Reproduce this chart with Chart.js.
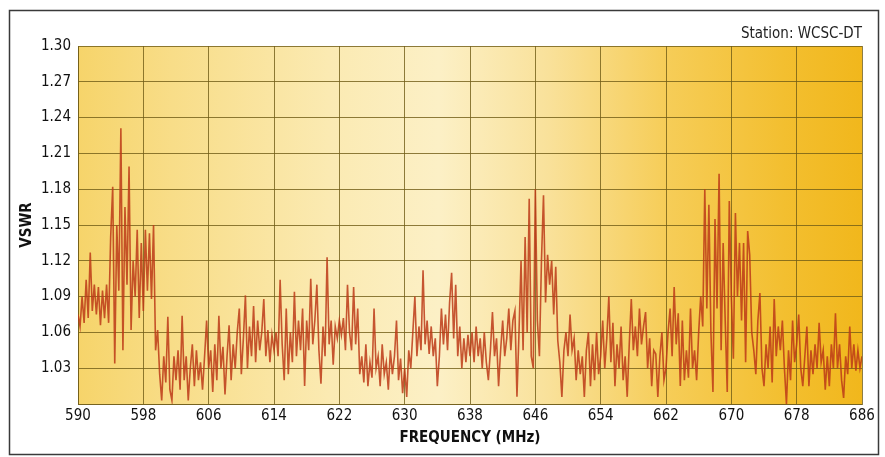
<!DOCTYPE html>
<html><head><meta charset="utf-8">
<script src="https://cdn.jsdelivr.net/npm/chart.js@4/dist/chart.umd.min.js"></script>
<style>
html,body{margin:0;padding:0;background:#fff;}
#wrap{position:relative;width:885px;height:457px;}
</style></head><body>
<div id="wrap"><canvas id="c" width="885" height="457"></canvas></div>
<script>
const startFreq = 590;
const stepMHz = 0.25;
const xTicks = [590,598,606,614,622,630,638,646,654,662,670,678,686];
const yTicks = [1.00,1.03,1.06,1.09,1.12,1.15,1.18,1.21,1.24,1.27,1.30];
const stationLabel = 'Station: WCSC-DT';

// VSWR readings, 0.25 MHz apart, one array per 8 MHz block
const vswr590 = [1.075,1.065,1.090,1.068, 1.104,1.072,1.127,1.078, 1.100,1.075,1.098,1.066, 1.095,1.072,1.100,1.068, 1.140,1.182,1.034,1.150, 1.095,1.231,1.045,1.165, 1.100,1.199,1.062,1.120, 1.090,1.146,1.072,1.135];
const vswr598 = [1.078,1.146,1.095,1.143, 1.088,1.150,1.045,1.062, 1.025,1.003,1.040,1.018, 1.073,1.012,1.003,1.040, 1.020,1.045,1.012,1.074, 1.020,1.040,1.003,1.030, 1.050,1.015,1.045,1.020, 1.035,1.012,1.040,1.070];
const vswr606 = [1.030,1.045,1.010,1.050, 1.020,1.074,1.030,1.048, 1.008,1.040,1.066,1.020, 1.050,1.030,1.060,1.080, 1.025,1.055,1.091,1.030, 1.065,1.040,1.082,1.035, 1.070,1.045,1.060,1.088, 1.040,1.062,1.035,1.058];
const vswr614 = [1.045,1.060,1.040,1.104, 1.050,1.020,1.080,1.025, 1.060,1.035,1.094,1.040, 1.070,1.045,1.080,1.015, 1.070,1.045,1.105,1.050, 1.070,1.100,1.045,1.017, 1.065,1.040,1.123,1.050, 1.070,1.033,1.065,1.055];
const vswr622 = [1.070,1.058,1.072,1.045, 1.100,1.060,1.045,1.098, 1.050,1.080,1.025,1.040, 1.018,1.050,1.015,1.035, 1.022,1.080,1.030,1.040, 1.015,1.050,1.025,1.035, 1.012,1.045,1.025,1.040, 1.070,1.020,1.038,1.009];
const vswr630 = [1.030,1.006,1.045,1.030, 1.060,1.090,1.040,1.065, 1.045,1.112,1.050,1.070, 1.042,1.065,1.040,1.055, 1.015,1.040,1.080,1.050, 1.075,1.045,1.085,1.110, 1.055,1.100,1.040,1.065, 1.030,1.055,1.035,1.058];
const vswr638 = [1.040,1.060,1.035,1.065, 1.040,1.055,1.030,1.060, 1.035,1.020,1.045,1.077, 1.040,1.055,1.015,1.045, 1.070,1.040,1.055,1.080, 1.045,1.070,1.078,1.006, 1.060,1.120,1.045,1.140, 1.060,1.172,1.040,1.030];
const vswr646 = [1.180,1.070,1.040,1.120, 1.175,1.085,1.125,1.100, 1.120,1.075,1.115,1.053, 1.035,1.006,1.045,1.060, 1.040,1.075,1.045,1.055, 1.020,1.045,1.025,1.040, 1.006,1.045,1.060,1.015, 1.050,1.020,1.060,1.025];
const vswr654 = [1.040,1.070,1.030,1.055, 1.090,1.035,1.068,1.015, 1.050,1.030,1.065,1.020, 1.040,1.006,1.050,1.088, 1.045,1.065,1.040,1.080, 1.050,1.065,1.077,1.030, 1.055,1.015,1.045,1.042, 1.006,1.040,1.060,1.020];
const vswr662 = [1.030,1.060,1.080,1.040, 1.098,1.050,1.076,1.015, 1.070,1.020,1.045,1.022, 1.080,1.030,1.045,1.020, 1.060,1.090,1.065,1.180, 1.080,1.167,1.060,1.010, 1.155,1.080,1.193,1.045, 1.135,1.070,1.010,1.170];
const vswr670 = [1.090,1.038,1.160,1.090, 1.135,1.070,1.135,1.035, 1.145,1.125,1.060,1.045, 1.025,1.070,1.093,1.030, 1.015,1.050,1.030,1.065, 1.018,1.088,1.040,1.065, 1.045,1.070,1.030,1.000, 1.045,1.020,1.070,1.035];
const vswr678 = [1.050,1.075,1.030,1.015, 1.040,1.065,1.015,1.045, 1.025,1.050,1.030,1.068, 1.035,1.045,1.012,1.040, 1.015,1.050,1.030,1.076, 1.030,1.050,1.020,1.005, 1.040,1.025,1.065,1.030, 1.050,1.028,1.045,1.030, 1.040];

const vswr = [].concat(vswr590, vswr598, vswr606, vswr614, vswr622, vswr630, vswr638, vswr646, vswr654, vswr662, vswr670, vswr678);
const points = vswr.map((v, i) => ({ x: startFreq + i * stepMHz, y: v }));

const FONT = "'DejaVu Sans Condensed', 'Liberation Sans Narrow', sans-serif";
const gridColor = 'rgba(112,92,22,0.8)';

const bgPlugin = {
  id: 'bg',
  beforeDraw(chart) {
    const { ctx, chartArea: a, width, height } = chart;
    ctx.save();
    ctx.fillStyle = '#ffffff';
    ctx.fillRect(0, 0, width, height);
    ctx.strokeStyle = '#3a3a3a';
    ctx.lineWidth = 1.5;
    ctx.strokeRect(9.5, 10.5, 869, 444);
    const g = ctx.createLinearGradient(a.left, 0, a.right, 0);
    g.addColorStop(0.00, '#f6d46a');
    g.addColorStop(0.12, '#f8dd88');
    g.addColorStop(0.32, '#fbeab2');
    g.addColorStop(0.46, '#fcf0c6');
    g.addColorStop(0.60, '#f9e19a');
    g.addColorStop(0.75, '#f6cd58');
    g.addColorStop(0.90, '#f3bf30');
    g.addColorStop(1.00, '#f1b71c');
    ctx.fillStyle = g;
    ctx.fillRect(a.left, a.top, a.right - a.left, a.bottom - a.top);
    ctx.restore();
  }
};

new Chart(document.getElementById('c'), {
  type: 'line',
  data: {
    datasets: [{
      data: points,
      borderColor: 'rgba(188,58,24,0.85)',
      borderWidth: 1.6,
      pointRadius: 0,
      tension: 0,
      fill: false
    }]
  },
  options: {
    responsive: false,
    devicePixelRatio: 1,
    animation: false,
    layout: { padding: { left: 8, right: 23, top: 0, bottom: 0 } },
    plugins: {
      legend: { display: false },
      tooltip: { enabled: false },
      title: {
        display: true,
        text: stationLabel,
        align: 'end',
        color: '#222',
        font: { family: FONT, size: 15, weight: 'normal' },
        padding: { top: 25, bottom: 3 }
      }
    },
    scales: {
      x: {
        type: 'linear',
        min: 590, max: 686,
        afterBuildTicks: s => { s.ticks = xTicks.map(v => ({ value: v })); },
        afterFit: s => { s.height = 53; },
        ticks: {
          autoSkip: false, maxRotation: 0, padding: 3,
          color: '#111',
          font: { family: FONT, size: 15 },
          callback: v => String(v)
        },
        grid: { color: gridColor, lineWidth: 1, drawTicks: false },
        border: { display: true, color: gridColor, width: 1 },
        title: {
          display: true, text: 'FREQUENCY (MHz)', color: '#111',
          font: { family: FONT, size: 15, weight: 'bold' },
          padding: { top: 2, bottom: 10 }
        }
      },
      y: {
        min: 1.0, max: 1.3,
        afterBuildTicks: s => { s.ticks = yTicks.map(v => ({ value: v })); },
        afterFit: s => { s.width = 70; },
        ticks: {
          padding: 7, color: '#111',
          font: { family: FONT, size: 15 },
          callback: v => (Math.abs(v - 1) < 1e-9 ? '' : v.toFixed(2))
        },
        grid: { color: gridColor, lineWidth: 1, drawTicks: false },
        border: { display: true, color: gridColor, width: 1 },
        title: {
          display: true, text: 'VSWR', color: '#111',
          font: { family: FONT, size: 15, weight: 'bold' },
          padding: { top: 10, bottom: 0 }
        }
      }
    }
  },
  plugins: [bgPlugin]
});
</script>
</body></html>
